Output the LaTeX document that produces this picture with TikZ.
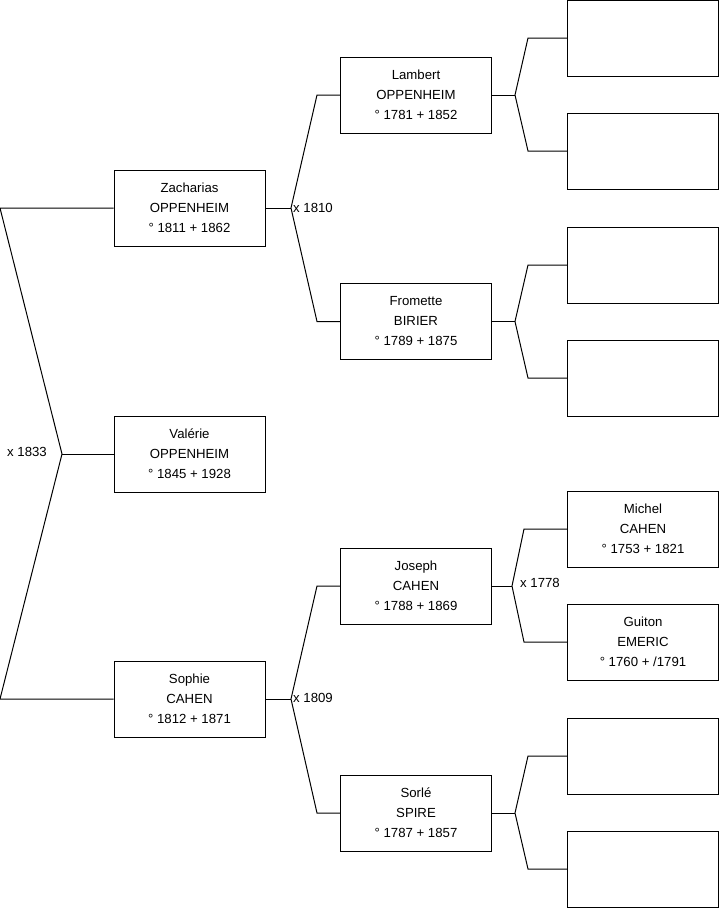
\documentclass[tikz,border=0pt]{standalone}
\usepackage{fontspec}
\setmainfont{Liberation Sans}
\begin{document}
\begin{tikzpicture}[x=1pt,y=-1pt,
  person/.style={draw, rectangle, line width=1pt, minimum width=151pt, minimum height=76pt, inner sep=0pt, align=center, font=\fontsize{13.2}{20}\selectfont},
  link/.style={draw, line width=1pt},
  lbl/.style={font=\fontsize{13.2}{14}\selectfont, inner sep=0pt}]
\useasboundingbox (0,0) rectangle (719,908);
% generation 1
\node[person] (val) at (189.5,454) {Valérie\\OPPENHEIM\\° 1845 + 1928};
% generation 2
\node[person] (zach) at (189.5,208) {Zacharias\\OPPENHEIM\\° 1811 + 1862};
\node[person] (soph) at (189.5,699) {Sophie\\CAHEN\\° 1812 + 1871};
% generation 3
\node[person] (lam) at (416,95) {Lambert\\OPPENHEIM\\° 1781 + 1852};
\node[person] (from) at (416,321.5) {Fromette\\BIRIER\\° 1789 + 1875};
\node[person] (jos) at (416,586) {Joseph\\CAHEN\\° 1788 + 1869};
\node[person] (sorl) at (416,813) {Sorlé\\SPIRE\\° 1787 + 1857};
% generation 4
\node[person] (r1) at (643,38) {};
\node[person] (r2) at (643,151) {};
\node[person] (r3) at (643,265) {};
\node[person] (r4) at (643,378) {};
\node[person] (mich) at (643,529) {Michel\\CAHEN\\° 1753 + 1821};
\node[person] (guit) at (643,642) {Guiton\\EMERIC\\° 1760 + /1791};
\node[person] (r7) at (643,756) {};
\node[person] (r8) at (643,869) {};
% junctions
\coordinate (jv) at (62,454);
\coordinate (jz) at (291,208);
\coordinate (js) at (291,699);
\coordinate (jl) at (515,95);
\coordinate (jf) at (515,321.5);
\coordinate (jj) at (512,586);
\coordinate (jo) at (515,813);
% connectors
\draw[link] (zach.west) -- (0,208) -- (jv) -- (0,699) -- (soph.west);
\draw[link] (jv) -- (val.west);
\draw[link] (zach.east) -- (jz);
\draw[link] (lam.west) -- ++(-23,0) -- (jz) -- ([xshift=-23pt]from.west) -- (from.west);
\draw[link] (soph.east) -- (js);
\draw[link] (jos.west) -- ++(-23,0) -- (js) -- ([xshift=-23pt]sorl.west) -- (sorl.west);
\draw[link] (lam.east) -- (jl);
\draw[link] (r1.west) -- ++(-39,0) -- (jl) -- ([xshift=-39pt]r2.west) -- (r2.west);
\draw[link] (from.east) -- (jf);
\draw[link] (r3.west) -- ++(-39,0) -- (jf) -- ([xshift=-39pt]r4.west) -- (r4.west);
\draw[link] (jos.east) -- (jj);
\draw[link] (mich.west) -- ++(-43,0) -- (jj) -- ([xshift=-43pt]guit.west) -- (guit.west);
\draw[link] (sorl.east) -- (jo);
\draw[link] (r7.west) -- ++(-39,0) -- (jo) -- ([xshift=-39pt]r8.west) -- (r8.west);
% labels
\node[lbl, anchor=east] (l1833) at (47,452) {x 1833};
\node[lbl, anchor=west] (l1810) at (293,208) {x 1810};
\node[lbl, anchor=west] (l1809) at (293,698) {x 1809};
\node[lbl, anchor=west] (l1778) at (520,583) {x 1778};
\end{tikzpicture}
\end{document}
